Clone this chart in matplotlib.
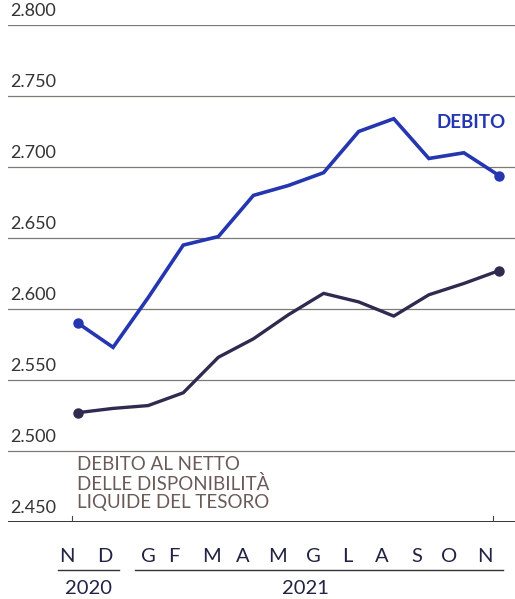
import matplotlib
matplotlib.use("Agg")
import matplotlib.pyplot as plt
import numpy as np

months = ["N", "D", "G", "F", "M", "A", "M", "G", "L", "A", "S", "O", "N"]
years = ["2020", "2021"]
debito = [2590, 2573, 2608, 2645, 2651, 2680, 2687, 2696, 2725, 2734, 2706, 2710, 2694]
debito_netto = [2527, 2530, 2532, 2541, 2566, 2579, 2596, 2611, 2605, 2595, 2610, 2618, 2627]
yticks = [2450, 2500, 2550, 2600, 2650, 2700, 2750, 2800]

W, H = 515, 599
fig = plt.figure(figsize=(W / 100, H / 100), dpi=100)
fig.patch.set_facecolor("white")
ax = fig.add_axes([8 / W, (H - 522) / H, 1 - 8 / W, (522 - 25) / H])

x = np.arange(len(months))
blue = "#2436b0"
dark = "#2f2b4f"

ax.plot(x, debito, color=blue, lw=2.6, solid_joinstyle="miter", zorder=3)
ax.plot(x[[0, -1]], np.array(debito)[[0, -1]], "o", color=blue, ms=6.5, zorder=4)
ax.plot(x, debito_netto, color=dark, lw=2.4, zorder=3)
ax.plot(x[[0, -1]], np.array(debito_netto)[[0, -1]], "o", color=dark, ms=6.5, zorder=4)

px = 35.08  # pixels per month
ax.set_xlim(-70 / px, 12 + 16 / px)
ax.set_ylim(2450, 2800)

for v in yticks:
    if v == 2450:
        ax.axhline(v, color="#222222", lw=1.3, zorder=1)
    else:
        ax.axhline(v, color="#7d7a76", lw=0.9, zorder=1)
    ax.text(-68 / px, v + 4, f"{v:,}".replace(",", "."), fontsize=13, family="Lato",
            color="#333333", ha="left", va="bottom")

for xp in [-6 / px, 415 / px]:
    ax.plot([xp, xp], [2450, 2454], color="#444444", lw=0.8)

for s in ax.spines.values():
    s.set_visible(False)
ax.set_xticks([])
ax.set_yticks([])
ax.patch.set_alpha(0)

ax.text(12.2, 2731, "DEBITO", fontsize=13.5, family="Lato", fontweight="bold",
        color=blue, ha="right", va="center")
ax.text(-0.02, 2477, "DEBITO AL NETTO\nDELLE DISPONIBILITÀ\nLIQUIDE DEL TESORO",
        fontsize=13.5, family="Lato", color="#6b5b58", ha="left", va="center",
        linespacing=1.1)

def fx(p):
    return p / W

def fy(p):
    return 1 - p / H

label_px = [67, 105, 148, 174, 212, 243, 277, 313, 347, 382, 417, 449, 485]
for m, lp in zip(months, label_px):
    fig.text(fx(lp), fy(557), m, fontsize=14.5, family="Lato", color="#222244",
             ha="center", va="center")

fig.add_artist(plt.Line2D([fx(58), fx(119)], [fy(570), fy(570)], color="#333333", lw=1.0))
fig.add_artist(plt.Line2D([fx(135), fx(503)], [fy(570), fy(570)], color="#333333", lw=1.0))
fig.text(fx(88), fy(588), years[0], fontsize=14.5, family="Lato", color="#222244",
         ha="center", va="center")
fig.text(fx(305), fy(588), years[1], fontsize=14.5, family="Lato", color="#222244",
         ha="center", va="center")

fig.savefig("out.png", dpi=100, facecolor="white")
